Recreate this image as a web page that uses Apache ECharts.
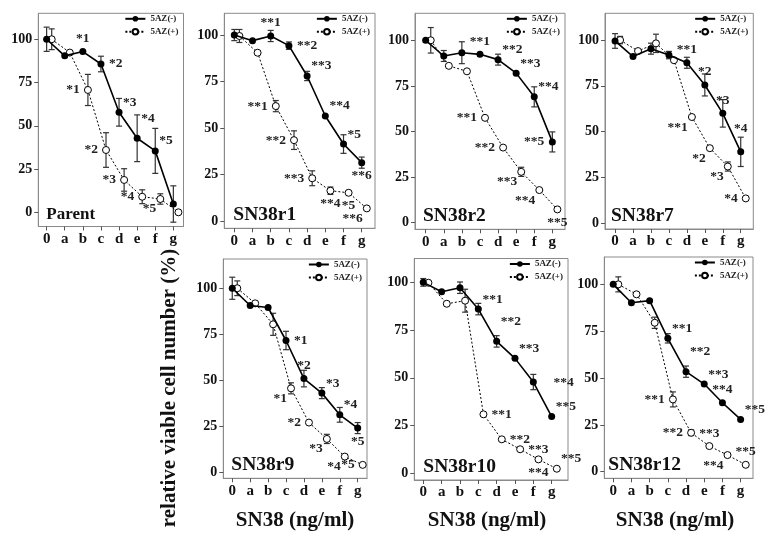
<!DOCTYPE html>
<html><head><meta charset="utf-8">
<script src="https://cdn.jsdelivr.net/npm/echarts@6/dist/echarts.min.js"></script>
<style>html,body{margin:0;padding:0;background:#fff}#c{width:765px;height:535px}</style>
</head><body><div id="c"></div>
<script>
// ---------------- data ----------------
const categories = ['0','a','b','c','d','e','f','g'];
const panelNames = ['Parent','SN38r1','SN38r2','SN38r7','SN38r9','SN38r10','SN38r12'];
const seriesNames = ['5AZ(-)','5AZ(+)'];
const yTickValues = [0,25,50,75,100];
const xAxisTitle = 'SN38 (ng/ml)';
const yAxisTitle = 'relative viable cell number (%)';

const parentMinus    = [100, 90.4, 92.9, 85.7, 57.8, 42.8, 35.5, 4.8];
const parentMinusErr = [7, 0, 0, 4.5, 8, 13.5, 13, 10.5];
const parentPlus     = [100, 92.3, 70.7, 36, 18.7, 9, 7.7, 0];
const parentPlusErr  = [6, 0, 9, 10, 6.5, 4, 3, 0];
const parentMinusNotes = ['', '', '*1', '*2', '*3', '*4', '*5', ''];
const parentPlusNotes  = ['', '', '*1', '*2', '*3', '*4', '*5', ''];

const r1Minus    = [100, 97, 99.5, 94.3, 78, 56.5, 41.4, 31.4];
const r1MinusErr = [3, 0, 3, 2, 2.5, 0, 5, 3];
const r1Plus     = [99.5, 90.5, 61.8, 43.5, 23, 16.3, 15.2, 6.8];
const r1PlusErr  = [3.5, 0, 3, 5, 4, 2, 0, 0];
const r1MinusNotes = ['', '', '**1', '**2', '**3', '**4', '*5', '**6'];
const r1PlusNotes  = ['', '', '**1', '**2', '**3', '**4', '*5', '**6'];

const r2Minus    = [100, 91.4, 93.2, 92.3, 89.4, 82, 69, 44.3];
const r2MinusErr = [0, 3, 6, 0, 3, 0, 5.5, 5.5];
const r2Plus     = [100, 86, 83, 57.5, 41.2, 27.9, 17.9, 7.3];
const r2PlusErr  = [7, 0, 0, 0, 0, 2.5, 0, 0];
const r2MinusNotes = ['', '', '', '**1', '**2', '**3', '**4', '**5'];
const r2PlusNotes  = ['', '', '', '**1', '**2', '**3', '**4', '**5'];

const r7Minus    = [99.5, 91, 95.3, 91.8, 87.6, 75.5, 60, 39];
const r7MinusErr = [4, 0, 3, 2, 3, 6, 7.5, 8];
const r7Plus     = [100, 94, 98.2, 89, 58, 41, 31, 13.6];
const r7PlusErr  = [2, 0, 5, 0, 0, 0, 2.5, 0];
const r7MinusNotes = ['', '', '', '', '**1', '*2', '*3', '*4'];
const r7PlusNotes  = ['', '', '', '', '**1', '*2', '*3', '*4'];

const r9Minus    = [100, 90.6, 89.5, 71.6, 50.9, 43, 31.2, 24];
const r9MinusErr = [6, 0, 0, 5, 4.5, 3, 4, 3];
const r9Plus     = [100, 91.8, 80.4, 45.6, 27, 18.1, 8.5, 4];
const r9PlusErr  = [4, 0, 6, 3, 0, 2.5, 0, 0];
const r9MinusNotes = ['', '', '', '*1', '*2', '*3', '*4', '*5'];
const r9PlusNotes  = ['', '', '', '*1', '*2', '*3', '*4', '*5'];

const r10Minus    = [100, 95.1, 97.2, 86, 69.1, 60.2, 47.8, 29.7];
const r10MinusErr = [2, 0, 3, 3, 3, 0, 4, 0];
const r10Plus     = [99.8, 88.8, 90.4, 30.9, 17.8, 12.6, 7.3, 2.4];
const r10PlusErr  = [0, 0, 6, 0, 0, 0, 0, 0];
const r10MinusNotes = ['', '', '', '**1', '**2', '**3', '**4', '**5'];
const r10PlusNotes  = ['', '', '', '**1', '**2', '**3', '**4', '**5'];

const r12Minus    = [100, 90.2, 91.3, 71.2, 53.4, 46.8, 36.8, 27.9];
const r12MinusErr = [0, 0, 0, 2.5, 3, 0, 0, 0];
const r12Plus     = [100, 94.7, 79.5, 38.6, 20.8, 13.7, 8.9, 3.7];
const r12PlusErr  = [4, 0, 3, 4, 1.5, 0, 0, 0];
const r12MinusNotes = ['', '', '', '**1', '**2', '**3', '**4', '**5'];
const r12PlusNotes  = ['', '', '', '**1', '**2', '**3', '**4', '**5'];

// ---------------- styling / layout ----------------
const FONT = '"Liberation Serif", "DejaVu Serif", serif';
const PLUS_SHIFT = 0.28;   // open-circle series drawn slightly right of tick
// note placement codes (compass direction from the point)
const notePlace = [
  {m: ['', '', 'N', 'E', 'NE', 'NE2', 'NE', ''],   p: ['', '', 'W', 'W', 'W', 'W', 'SW', '']},
  {m: ['', '', 'N', 'E', 'NE', 'NE', 'NE', 'S'],   p: ['', '', 'W', 'W', 'W', 'S', 'S', 'SW']},
  {m: ['', '', '', 'N', 'NE', 'NE', 'NE', 'W'],    p: ['', '', '', 'W', 'W', 'SW', 'SW', 'S']},
  {m: ['', '', '', '', 'N', 'N', 'N', 'N2'],       p: ['', '', '', '', 'SW', 'SW', 'SW', 'W']},
  {m: ['', '', '', 'E', 'N', 'NE', 'NE', 'S'],     p: ['', '', '', 'SW', 'W', 'SW', 'SW', 'W']},
  {m: ['', '', '', 'NE', 'NE2', 'NE', 'E2', 'NE'], p: ['', '', '', 'E', 'E', 'E', 'S', 'NE']},
  {m: ['', '', '', 'NE', 'NE2', 'NE', 'N', 'NE'],  p: ['', '', '', 'W', 'W', 'N', 'SW', 'N']}
];
const layout = [
  {L:38.3,  T:13.3,  R:183.5, B:226.5, yMin:-8.2, yMax:115,   xMin:-0.46, xMax:7.56, nameSize:17,   nameDx:8},
  {L:224.3, T:13.3,  R:375,   B:228.3, yMin:-3.9, yMax:111.7, xMin:-0.55, xMax:7.73, nameSize:19.5, nameDx:9},
  {L:415,   T:13.3,  R:565,   B:229.3, yMin:-3.6, yMax:114.8, xMin:-0.59, xMax:7.70, nameSize:19.5, nameDx:8},
  {L:605,   T:13.3,  R:753.3, B:229,   yMin:-3.1, yMax:114.6, xMin:-0.56, xMax:7.70, nameSize:19.5, nameDx:6},
  {L:223.3, T:259,   R:367,   B:478.3, yMin:-3.3, yMax:115.9, xMin:-0.50, xMax:7.52, nameSize:19.5, nameDx:8},
  {L:414.3, T:258.5, R:568,   B:480,   yMin:-3.5, yMax:112.5, xMin:-0.49, xMax:7.89, nameSize:19.5, nameDx:9},
  {L:604.3, T:257,   R:753,   B:478.3, yMin:-3.5, yMax:114.6, xMin:-0.49, xMax:7.68, nameSize:19.5, nameDx:4}
];
const xTitleCenters = [295, 487, 675];

const panels = [
  [parentMinus, parentMinusErr, parentPlus, parentPlusErr, parentMinusNotes, parentPlusNotes],
  [r1Minus, r1MinusErr, r1Plus, r1PlusErr, r1MinusNotes, r1PlusNotes],
  [r2Minus, r2MinusErr, r2Plus, r2PlusErr, r2MinusNotes, r2PlusNotes],
  [r7Minus, r7MinusErr, r7Plus, r7PlusErr, r7MinusNotes, r7PlusNotes],
  [r9Minus, r9MinusErr, r9Plus, r9PlusErr, r9MinusNotes, r9PlusNotes],
  [r10Minus, r10MinusErr, r10Plus, r10PlusErr, r10MinusNotes, r10PlusNotes],
  [r12Minus, r12MinusErr, r12Plus, r12PlusErr, r12MinusNotes, r12PlusNotes]
];

function noteLabel(text, code) {
  if (!text) return {show: false};
  const w = text.length * 6.8;
  const m = /^(NE|NW|SE|SW|N|S|E|W)(\d?)$/.exec(code);
  const dir = m[1], k = m[2] ? +m[2] : 1;
  const diag = dir.length === 2;
  let dx = 0, dy = 0;
  if (dir.includes('E')) dx = diag ? w / 2 + 4 : w / 2 + 8 + (k - 1) * 12;
  if (dir.includes('W')) dx = -(diag ? w / 2 + 4 : w / 2 + 8 + (k - 1) * 12);
  if (dir.includes('N')) dy = -(diag ? 10 : 13) - (k - 1) * 10;
  if (dir.includes('S')) dy = (diag ? 10 : 13) + (k - 1) * 10;
  return {show: true, formatter: text, position: 'inside', offset: [dx, dy],
          fontSize: 13.5, fontWeight: 'bold', fontFamily: FONT, color: '#222'};
}

function errSeries(vals, errs, shift, k) {
  const data = [];
  vals.forEach((v, i) => { if (errs[i]) data.push([i + shift, v - errs[i], v + errs[i]]); });
  return {
    type: 'custom', xAxisIndex: k, yAxisIndex: k, z: 2, silent: true,
    encode: {x: 0, y: [1, 2]}, data,
    renderItem(params, api) {
      const x = api.value(0);
      const top = api.coord([x, api.value(2)]);
      const bot = api.coord([x, api.value(1)]);
      const st = {stroke: '#333', lineWidth: 1.2};
      return {type: 'group', children: [
        {type: 'line', shape: {x1: top[0], y1: top[1], x2: bot[0], y2: bot[1]}, style: st},
        {type: 'line', shape: {x1: top[0] - 3, y1: top[1], x2: top[0] + 3, y2: top[1]}, style: st},
        {type: 'line', shape: {x1: bot[0] - 3, y1: bot[1], x2: bot[0] + 3, y2: bot[1]}, style: st}
      ]};
    }
  };
}

const xIdx = categories.map((c, i) => i);
const grid = [], xAxis = [], yAxis = [], series = [], legend = [], graphic = [];

panels.forEach((pd, k) => {
  const [minus, minusErr, plus, plusErr, minusNotes, plusNotes] = pd;
  const g = layout[k];
  grid.push({left: g.L, top: g.T, width: g.R - g.L, height: g.B - g.T, show: true,
             borderColor: '#8a8a8a', borderWidth: 1, backgroundColor: 'transparent'});
  xAxis.push({
    type: 'value', gridIndex: k, min: g.xMin, max: g.xMax,
    axisLine: {show: true, onZero: false, lineStyle: {color: '#8a8a8a'}},
    axisTick: {show: true, customValues: xIdx, length: 4, lineStyle: {color: '#555'}},
    axisLabel: {customValues: xIdx, formatter: v => categories[Math.round(v)], fontSize: 15,
                fontWeight: 'bold', fontFamily: FONT, color: '#111', margin: 5},
    splitLine: {show: false}
  });
  yAxis.push({
    type: 'value', gridIndex: k, min: g.yMin, max: g.yMax,
    axisLine: {show: true, onZero: false, lineStyle: {color: '#8a8a8a'}},
    axisTick: {show: true, customValues: yTickValues, length: 4, lineStyle: {color: '#555'}},
    axisLabel: {customValues: yTickValues, fontSize: 14, fontWeight: 'bold', fontFamily: FONT,
                color: '#111', margin: 6},
    splitLine: {show: false}
  });
  series.push(errSeries(minus, minusErr, 0, k));
  series.push(errSeries(plus, plusErr, PLUS_SHIFT, k));
  series.push({
    type: 'line', name: seriesNames[0], xAxisIndex: k, yAxisIndex: k, z: 4,
    symbol: 'circle', symbolSize: 7, showAllSymbol: true, silent: true,
    lineStyle: {color: '#000', width: 1.6}, itemStyle: {color: '#000'},
    data: minus.map((v, i) => ({value: [i, v], label: noteLabel(minusNotes[i], notePlace[k].m[i])}))
  });
  series.push({
    type: 'line', name: seriesNames[1], xAxisIndex: k, yAxisIndex: k, z: 3,
    symbol: 'circle', symbolSize: 7, showAllSymbol: true, silent: true,
    lineStyle: {color: '#000', width: 1, type: [2, 2]},
    itemStyle: {color: '#fff', borderColor: '#000', borderWidth: 1},
    data: plus.map((v, i) => ({value: [i + PLUS_SHIFT, v], label: noteLabel(plusNotes[i], notePlace[k].p[i])}))
  });
  legend.push({
    data: seriesNames, orient: 'vertical', right: 765 - g.R + 5, top: g.T + 1,
    itemWidth: 20, itemHeight: 7, itemGap: 4, padding: 0, selectedMode: false,
    textStyle: {fontSize: 9, fontWeight: 'bold', fontFamily: FONT, color: '#222'}
  });
  graphic.push({
    type: 'text', x: g.L + g.nameDx, y: g.B - 3, silent: true,
    style: {text: panelNames[k], font: 'bold ' + g.nameSize + 'px ' + FONT, fill: '#111',
            align: 'left', verticalAlign: 'bottom'}
  });
});

xTitleCenters.forEach(cx => graphic.push({
  type: 'text', x: cx, y: 521, silent: true,
  style: {text: xAxisTitle, font: 'bold 21px ' + FONT, fill: '#111', align: 'center', verticalAlign: 'middle'}
}));
graphic.push({
  type: 'text', x: 170, y: 388, rotation: Math.PI / 2, silent: true,
  style: {text: yAxisTitle, font: 'bold 21px ' + FONT, fill: '#111', align: 'center', verticalAlign: 'middle'}
});

const chart = echarts.init(document.getElementById('c'), null, {renderer: 'canvas'});
chart.setOption({animation: false, backgroundColor: '#fff', grid, xAxis, yAxis, series, legend, graphic});
</script></body></html>
